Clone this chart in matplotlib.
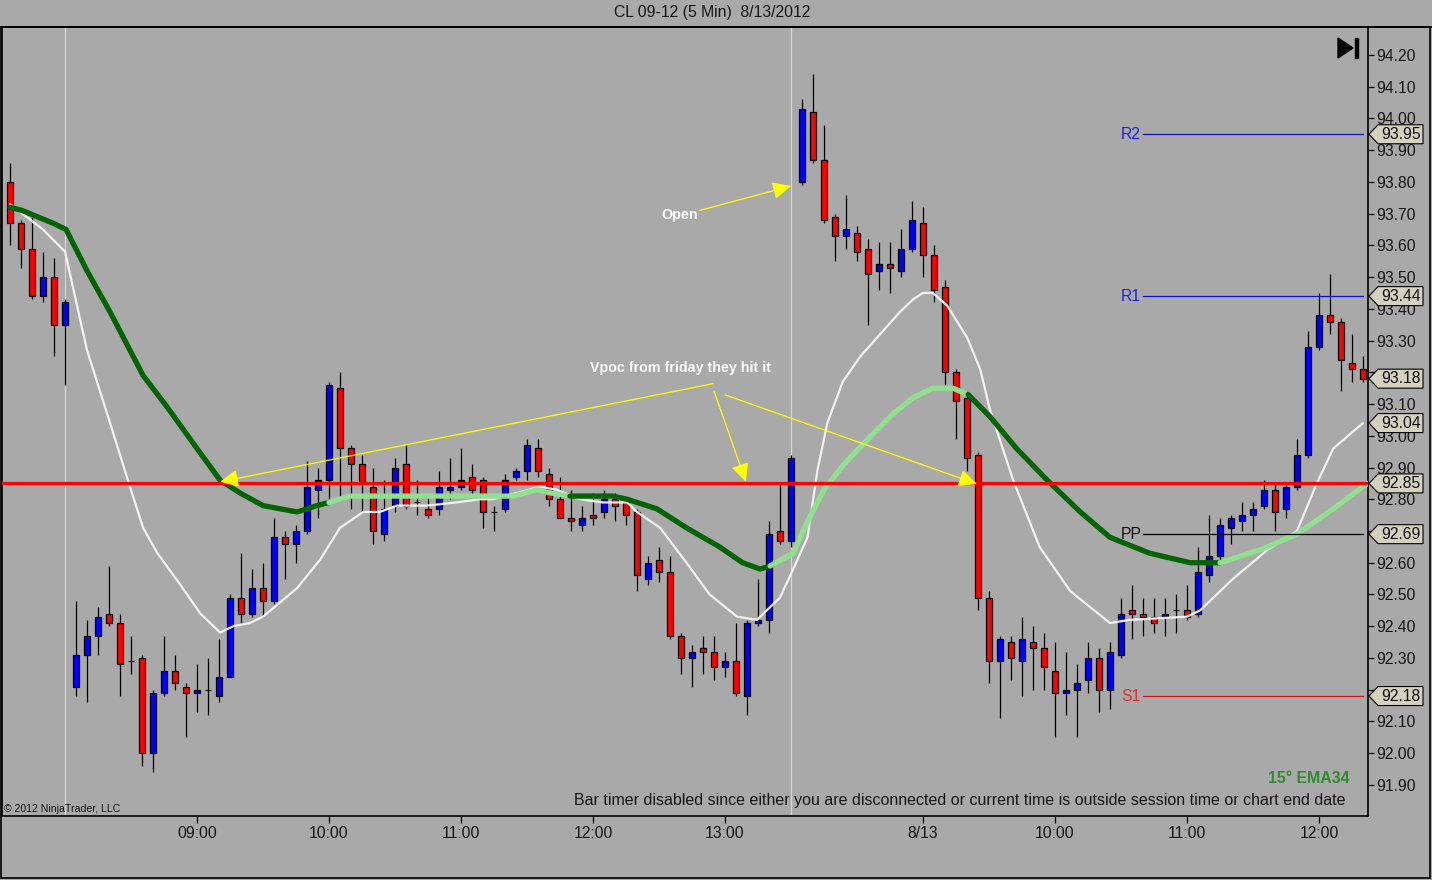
import matplotlib
matplotlib.use('Agg')
import matplotlib.pyplot as plt
from matplotlib.patches import Polygon, Rectangle
from matplotlib.lines import Line2D
import matplotlib.transforms as mtransforms

# 5 min bars, index 0..123 (Friday session then 8/13)
opens = [93.80, 93.67, 93.59, 93.44, 93.50, 93.35, 92.21, 92.31, 92.37, 92.44,
         92.41, 92.29, 92.30, 92.00, 92.19, 92.26, 92.21, 92.19, 92.20, 92.18,
         92.24, 92.49, 92.44, 92.52, 92.48, 92.68, 92.66, 92.70, 92.83, 92.86,
         93.15, 92.96, 92.91, 92.84, 92.69, 92.78, 92.91, 92.79, 92.77, 92.77,
         92.83, 92.84, 92.87, 92.86, 92.76, 92.77, 92.87, 92.89, 92.96, 92.88,
         92.80, 92.74, 92.72, 92.75, 92.76, 92.80, 92.79, 92.76, 92.55, 92.61,
         92.57, 92.37, 92.30, 92.33, 92.32, 92.27, 92.29, 92.18, 92.41, 92.42,
         92.70, 92.67, 93.80, 94.02, 93.87, 93.69, 93.63, 93.64, 93.59, 93.52,
         93.54, 93.52, 93.59, 93.67, 93.57, 93.47, 93.20, 93.12, 92.94, 92.49,
         92.29, 92.35, 92.29, 92.35, 92.33, 92.26, 92.19, 92.20, 92.23, 92.30,
         92.20, 92.31, 92.45, 92.44, 92.43, 92.43, 92.45, 92.45, 92.44, 92.56,
         92.62, 92.71, 92.73, 92.75, 92.78, 92.83, 92.77, 92.84, 92.94, 93.28,
         93.38, 93.36, 93.23, 93.21]
highs = [93.86, 93.68, 93.69, 93.58, 93.56, 93.43, 92.48, 92.42, 92.46, 92.59,
         92.44, 92.37, 92.31, 92.20, 92.37, 92.31, 92.22, 92.28, 92.30, 92.36,
         92.50, 92.63, 92.58, 92.60, 92.74, 92.70, 92.72, 92.92, 92.90, 93.17,
         93.20, 92.97, 92.94, 92.90, 92.86, 92.93, 92.97, 92.86, 92.81, 92.89,
         92.93, 92.96, 92.91, 92.87, 92.78, 92.88, 92.90, 92.99, 92.99, 92.90,
         92.87, 92.83, 92.78, 92.82, 92.83, 92.82, 92.80, 92.77, 92.62, 92.65,
         92.62, 92.38, 92.34, 92.37, 92.37, 92.32, 92.41, 92.42, 92.55, 92.73,
         92.85, 92.94, 94.06, 94.14, 93.98, 93.70, 93.76, 93.66, 93.62, 93.61,
         93.61, 93.65, 93.74, 93.72, 93.60, 93.49, 93.21, 93.14, 92.95, 92.51,
         92.37, 92.37, 92.43, 92.40, 92.38, 92.35, 92.32, 92.28, 92.35, 92.33,
         92.35, 92.49, 92.53, 92.49, 92.49, 92.49, 92.50, 92.53, 92.65, 92.75,
         92.74, 92.75, 92.79, 92.79, 92.86, 92.85, 92.85, 92.99, 93.33, 93.45,
         93.51, 93.37, 93.32, 93.25]
lows = [93.60, 93.53, 93.43, 93.42, 93.25, 93.16, 92.18, 92.16, 92.31, 92.40,
        92.18, 92.25, 91.96, 91.94, 92.18, 92.20, 92.05, 92.13, 92.12, 92.16,
        92.24, 92.41, 92.43, 92.43, 92.47, 92.55, 92.60, 92.69, 92.74, 92.80,
        92.81, 92.77, 92.76, 92.66, 92.67, 92.76, 92.77, 92.75, 92.74, 92.75,
        92.80, 92.83, 92.81, 92.71, 92.70, 92.76, 92.86, 92.86, 92.87, 92.78,
        92.74, 92.70, 92.70, 92.72, 92.74, 92.73, 92.72, 92.51, 92.53, 92.54,
        92.36, 92.25, 92.21, 92.25, 92.23, 92.24, 92.18, 92.12, 92.40, 92.38,
        92.66, 92.65, 93.79, 93.86, 93.67, 93.55, 93.59, 93.55, 93.35, 93.46,
        93.45, 93.50, 93.58, 93.50, 93.42, 93.16, 92.99, 92.89, 92.45, 92.22,
        92.11, 92.23, 92.18, 92.20, 92.20, 92.05, 92.12, 92.05, 92.19, 92.13,
        92.14, 92.30, 92.36, 92.37, 92.38, 92.37, 92.38, 92.42, 92.43, 92.54,
        92.61, 92.66, 92.70, 92.70, 92.77, 92.70, 92.74, 92.83, 92.93, 93.27,
        93.32, 93.14, 93.17, 93.17]
closes = [93.67, 93.59, 93.44, 93.50, 93.35, 93.42, 92.31, 92.37, 92.43, 92.41,
          92.28, 92.29, 92.00, 92.19, 92.26, 92.22, 92.19, 92.20, 92.20, 92.24,
          92.49, 92.44, 92.52, 92.48, 92.68, 92.66, 92.70, 92.84, 92.86, 93.16,
          92.96, 92.91, 92.85, 92.70, 92.77, 92.90, 92.78, 92.79, 92.75, 92.84,
          92.84, 92.86, 92.83, 92.76, 92.76, 92.86, 92.89, 92.97, 92.89, 92.80,
          92.74, 92.73, 92.74, 92.74, 92.80, 92.78, 92.75, 92.56, 92.60, 92.57,
          92.37, 92.30, 92.32, 92.32, 92.27, 92.29, 92.19, 92.41, 92.42, 92.69,
          92.67, 92.93, 94.03, 93.87, 93.68, 93.63, 93.65, 93.58, 93.51, 93.54,
          93.53, 93.59, 93.68, 93.57, 93.46, 93.20, 93.11, 92.93, 92.49, 92.29,
          92.36, 92.30, 92.36, 92.33, 92.27, 92.19, 92.20, 92.22, 92.30, 92.20,
          92.32, 92.44, 92.44, 92.43, 92.41, 92.44, 92.45, 92.43, 92.57, 92.62,
          92.72, 92.74, 92.75, 92.77, 92.83, 92.76, 92.84, 92.94, 93.28, 93.38,
          93.36, 93.24, 93.21, 93.18]

# fast average (white)
white_x = [0, 3, 5, 7, 9.1, 10.9, 12.1, 13.4, 15.5, 17.3, 19.1, 20.3, 21.8, 23,
           26.1, 28.2, 30, 32.1, 33.6, 35.2, 37.9, 40.6, 42.7, 43.9, 46.1, 48.2,
           49.7, 51.8, 53.9, 56.1, 57, 59.1, 61.5, 63.6, 66.1, 67.9, 70, 71.2,
           72.5, 73.4, 74.3, 75.7, 77.3, 79.1, 80.9, 82.1, 83, 83.9, 85.2, 87,
           88.2, 89.1, 91.2, 93.6, 96.4, 98.2, 100, 101.8, 107, 108.2, 111.2,
           114.3, 117, 118.8, 120.3, 123]
white_y = [93.73, 93.65, 93.58, 93.27, 93.04, 92.84, 92.71, 92.63, 92.53, 92.44,
           92.38, 92.40, 92.41, 92.43, 92.52, 92.61, 92.71, 92.76, 92.76, 92.78,
           92.78, 92.79, 92.80, 92.80, 92.82, 92.84, 92.83, 92.80, 92.79, 92.79,
           92.76, 92.71, 92.60, 92.50, 92.43, 92.42, 92.49, 92.58, 92.68, 92.89,
           93.04, 93.17, 93.25, 93.32, 93.39, 93.43, 93.45, 93.45, 93.41, 93.31,
           93.21, 93.08, 92.86, 92.65, 92.51, 92.46, 92.41, 92.42, 92.43, 92.45,
           92.55, 92.64, 92.70, 92.85, 92.96, 93.04]

# EMA34 (green)
ema_x = [0, 1.1, 3.9, 5.1, 7, 9.1, 12.1, 14.3, 17, 19.1, 20.9, 23, 26.1, 27.9,
         29, 30.9, 33, 36.1, 39.1, 43, 45.7, 47.9, 49.1, 50.9, 54.8, 56.1, 58.8,
         61.5, 64.5, 66.6, 68.2, 69.1, 71.2, 72.5, 74, 75.8, 78, 80.3, 82.1,
         83.9, 85.7, 87.1, 89.1, 91.5, 94.3, 97.3, 100, 103.6, 107.3, 109.1,
         110, 113.6, 117, 120.3, 123.4]
ema_y = [93.72, 93.71, 93.67, 93.65, 93.52, 93.39, 93.19, 93.09, 92.96, 92.86,
         92.82, 92.78, 92.76, 92.78, 92.79, 92.81, 92.81, 92.81, 92.81, 92.81,
         92.81, 92.83, 92.82, 92.81, 92.81, 92.80, 92.77, 92.71, 92.65, 92.60,
         92.58, 92.59, 92.63, 92.73, 92.83, 92.91, 92.99, 93.07, 93.12, 93.15,
         93.15, 93.13, 93.06, 92.96, 92.86, 92.76, 92.68, 92.63, 92.60, 92.60,
         92.60, 92.64, 92.69, 92.77, 92.85]
ema_flat_ranges = [(29, 51), (69.1, 87.1), (110, 124)]

tick_positions = [17, 29, 41, 53, 65, 83, 95, 107, 119]
tick_labels = ['09:00', '10:00', '11:00', '12:00', '13:00', '8/13', '10:00', '11:00', '12:00']
session_breaks = [5, 71]

vpoc = 92.85
pivot_names = ['R2', 'R1', 'PP', 'S1']
pivot_values = [93.95, 93.44, 92.69, 92.18]
flag_values = [93.95, 93.44, 93.18, 93.04, 92.85, 92.69, 92.18]

W, H = 1432, 880
BG = '#a9a9a9'
FONT = 'Liberation Sans'


def px(x, y):
    return (x / W, 1 - y / H)


def main():
    fig = plt.figure(figsize=(W / 100, H / 100), dpi=100, facecolor=BG)
    ax = fig.add_axes([2 / W, (H - 816) / H, 1366 / W, 789 / H], facecolor=BG)
    ax.set_xlim(-0.727, 123.455)
    ax.set_ylim(91.802, 94.288)

    draw_candles(ax)
    draw_averages(ax)
    draw_levels(ax)
    draw_annotations(ax)
    configure_axis(ax)
    draw_frame(fig)

    fig.savefig('out.png', dpi=100, facecolor=BG)


def draw_candles(ax):
    xs = list(range(len(opens)))
    colors = []
    for o, c in zip(opens, closes):
        if c > o:
            colors.append('#0000ff')
        elif c < o:
            colors.append('#ff0000')
        else:
            colors.append('black')
    ax.vlines(xs, lows, highs, color='black', lw=0.9, zorder=3)
    heights = [c - o for o, c in zip(opens, closes)]
    ax.bar(xs, heights, bottom=opens, width=0.6, color=colors,
           edgecolor='black', linewidth=0.9, zorder=4)
    for b in session_breaks:
        ax.axvline(b, color='#d6d6d6', lw=0.9, zorder=1)


def in_flat(x):
    return any(a <= x <= b for a, b in ema_flat_ranges)


def draw_averages(ax):
    ax.plot(white_x, white_y, color='#f2f2f2', lw=1.6, zorder=5,
            solid_capstyle='round', solid_joinstyle='round')
    # split the EMA into runs of steep (dark) / flat (light) colour
    runs = []
    cur = [0]
    for k in range(1, len(ema_x)):
        mid = (ema_x[k - 1] + ema_x[k]) / 2
        flat = in_flat(mid)
        if k > 1:
            prev_mid = (ema_x[k - 2] + ema_x[k - 1]) / 2
            if in_flat(prev_mid) != flat:
                runs.append((cur, in_flat(prev_mid)))
                cur = [k - 1]
        cur.append(k)
    runs.append((cur, in_flat((ema_x[-2] + ema_x[-1]) / 2)))
    for idx, flat in runs:
        ax.plot([ema_x[k] for k in idx], [ema_y[k] for k in idx],
                color='#90e090' if flat else '#006400', lw=3.8, zorder=6,
                solid_capstyle='round', solid_joinstyle='round')


def draw_levels(ax):
    ax.axhline(vpoc, color='#ff0000', lw=2.3, zorder=7)
    for name, val in zip(pivot_names, pivot_values):
        if name.startswith('R'):
            lc, tc = '#1010c8', '#2020e0'
        elif name == 'PP':
            lc, tc = 'black', '#101010'
        else:
            lc, tc = '#d01818', '#e03030'
        ax.plot([103, 123], [val, val], color=lc, lw=0.9, zorder=7)
        ax.text(101, val, name, color=tc, fontsize=11.3, family=FONT,
                ha='left', va='center', zorder=8)

    # price flags on the right axis
    trans = mtransforms.blended_transform_factory(ax.transAxes, ax.transData)
    aw = 1366.0
    hh = 9.5 / 317.4
    for val in flag_values:
        pts = [(1 + 1 / aw, val), (1 + 10 / aw, val + hh), (1 + 55 / aw, val + hh),
               (1 + 55 / aw, val - hh), (1 + 10 / aw, val - hh)]
        poly = Polygon(pts, closed=True, facecolor='#d4d1bf', edgecolor='black',
                       lw=0.8, transform=trans, clip_on=False, zorder=10)
        ax.add_patch(poly)
        ax.text(1 + 33 / aw, val, f'{val:.2f}', transform=trans, fontsize=11.3,
                family=FONT, color='#101010', ha='center', va='center',
                clip_on=False, zorder=11)


def draw_annotations(ax):
    arrow = dict(arrowstyle='-|>,head_length=0.8,head_width=0.38', color='#ffff00',
                 lw=0.9, mutation_scale=14, shrinkA=0, shrinkB=0)
    ax.text(60.9, 93.696, 'Open', color='white', fontsize=10.4, family=FONT,
            weight='bold', ha='center', va='center', zorder=12)
    ax.annotate('', xy=(71.0, 93.787), xytext=(62.7, 93.71), arrowprops=arrow, zorder=12)
    ax.text(61.0, 93.214, 'Vpoc from friday they hit it', color='white', fontsize=10.3,
            family=FONT, weight='bold', ha='center', va='center', zorder=12)
    ax.annotate('', xy=(19.1, 92.855), xytext=(63.9, 93.164), arrowprops=arrow, zorder=12)
    ax.annotate('', xy=(66.9, 92.855), xytext=(64.0, 93.141), arrowprops=arrow, zorder=12)
    ax.annotate('', xy=(87.9, 92.848), xytext=(65.0, 93.129), arrowprops=arrow, zorder=12)

    ax.text(1347 / 1366, (880 - 778 - 64) / 789, '15° EMA34', transform=ax.transAxes,
            color='#2e8b2e', fontsize=11.4, weight='bold', family=FONT,
            ha='right', va='center', zorder=12)
    ax.text(1343 / 1366, (880 - 800 - 64) / 789,
            'Bar timer disabled since either you are disconnected or current time '
            'is outside session time or chart end date', transform=ax.transAxes,
            color='#151515', fontsize=11.55, family=FONT, ha='right', va='center',
            zorder=12)
    ax.text(2 / 1366, (880 - 809 - 64) / 789, '© 2012 NinjaTrader, LLC',
            transform=ax.transAxes, color='#151515', fontsize=7.6, family=FONT,
            ha='left', va='center', zorder=12)


def configure_axis(ax):
    yt = [round(91.90 + 0.10 * k, 2) for k in range(24)]
    ax.set_yticks(yt)
    # labels sitting right under a price flag are hidden by it
    hidden = [v for v in yt if any(abs(v - f) < 0.025 for f in flag_values)]
    ax.set_yticklabels(['' if v in hidden else f'{v:.2f}' for v in yt])
    ax.yaxis.tick_right()
    ax.set_xticks(tick_positions)
    ax.set_xticklabels(tick_labels)
    ax.tick_params(axis='y', direction='out', length=4, width=0.9, pad=2,
                   labelsize=11.3, labelcolor='#151515', color='black')
    ax.tick_params(axis='x', direction='out', length=5, width=0.9, pad=2,
                   labelsize=11.3, labelcolor='#151515', color='black')
    for lab in ax.get_xticklabels() + ax.get_yticklabels():
        lab.set_family(FONT)
    for side in ['top', 'bottom', 'right', 'left']:
        ax.spines[side].set_color('black')
        ax.spines[side].set_linewidth(1.2)


def draw_frame(fig):
    fig.add_artist(Line2D([0, 1], [1 - 27 / H] * 2, color='black', lw=1.2,
                          transform=fig.transFigure))
    fig.add_artist(Rectangle(px(1, 878), 1429 / W, 851 / H, fill=False,
                             edgecolor='black', lw=1.2, transform=fig.transFigure))
    fig.text(712 / W, 1 - 13 / H, 'CL 09-12 (5 Min)  8/13/2012', fontsize=11.3,
             family=FONT, color='#151515', ha='center', va='center')
    # "go to end" button top right
    fig.add_artist(Polygon([px(1338, 38), px(1338, 58), px(1353, 48)], closed=True,
                           color='black', transform=fig.transFigure))
    fig.add_artist(Rectangle(px(1355, 58), 3 / W, 20 / H, color='black',
                             transform=fig.transFigure))


if __name__ == "__main__":
    main()
